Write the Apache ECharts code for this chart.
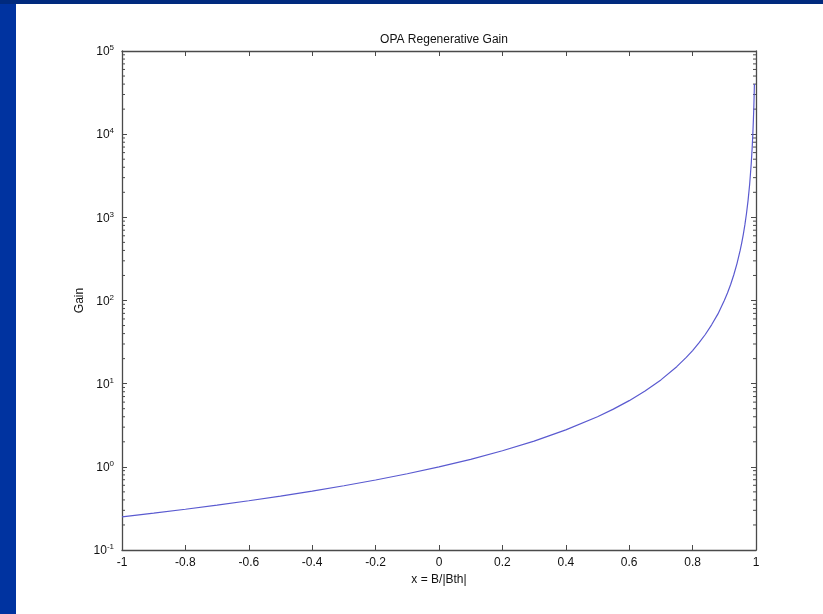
<!DOCTYPE html>
<html>
<head>
<meta charset="utf-8">
<script src="https://cdn.jsdelivr.net/npm/echarts@6/dist/echarts.min.js"></script>
<style>
html,body{margin:0;padding:0;background:#0033a0;}
#c{width:823px;height:614px;}
</style>
</head>
<body>
<div id="c"></div>
<script>
// Data
const xValues = [-1, -0.9, -0.8, -0.7, -0.6, -0.5, -0.4, -0.3, -0.2, -0.1, 0, 0.1, 0.2, 0.3, 0.4, 0.5, 0.55, 0.6, 0.65, 0.7, 0.75, 0.78, 0.8, 0.82, 0.84, 0.86, 0.88, 0.9, 0.91, 0.92, 0.93, 0.94, 0.95, 0.955, 0.96, 0.965, 0.97, 0.975, 0.98, 0.985, 0.988, 0.99, 0.992, 0.993, 0.994, 0.995];
const gainValues = [0.25, 0.277, 0.309, 0.346, 0.391, 0.444, 0.51, 0.592, 0.694, 0.826, 1.0, 1.23, 1.56, 2.04, 2.78, 4.0, 4.94, 6.25, 8.16, 11.1, 16, 20.7, 25, 30.9, 39, 51, 69, 100, 123, 156, 204, 278, 400, 494, 625, 816, 1111, 1600, 2500, 4444, 6944, 10000, 15600, 20400, 27800, 40000];
const xTicks = [-1, -0.8, -0.6, -0.4, -0.2, 0, 0.2, 0.4, 0.6, 0.8, 1];
const minorTickValues = [];
[0.1, 1, 10, 100, 1000, 10000].forEach(d => { for (let m = 2; m <= 9; m++) minorTickValues.push(+(d * m).toPrecision(3)); });

const chart = echarts.init(document.getElementById('c'), null, {renderer: 'canvas'});
const font = 'Liberation Sans, Arial, Helvetica, sans-serif';
const axisColor = '#4a4a4a';

const line = xValues.map((x, i) => [x, gainValues[i]]);

function supLabel(v) {
  const e = Math.round(Math.log10(v));
  return '{b|10}{s|' + e + '}';
}
const rich = {
  b: {fontSize: 12, fontFamily: font, color: '#111', lineHeight: 14, verticalAlign: 'bottom'},
  s: {fontSize: 8, fontFamily: font, color: '#111', lineHeight: 14, verticalAlign: 'top', padding: [0, 0, 6, 0]}
};

chart.setOption({
  backgroundColor: '#0033a0',
  animation: false,
  graphic: [
    {type: 'rect', shape: {x: 0, y: 0, width: 823, height: 4}, style: {fill: '#002a7e'}, z: -10, silent: true},
    {type: 'rect', shape: {x: 16, y: 4, width: 807, height: 610}, style: {fill: '#ffffff'}, z: -9, silent: true}
  ],
  title: {
    text: 'OPA Regenerative Gain',
    left: 439, top: 29, textAlign: 'center',
    textStyle: {fontSize: 12, fontWeight: 'normal', color: '#111', fontFamily: font}
  },
  grid: {left: 122, top: 51, right: 67, bottom: 64, containLabel: false},
  xAxis: [{
    type: 'value', min: -1, max: 1, interval: 0.2, position: 'bottom',
    name: 'x = B/|Bth|', nameLocation: 'middle', nameGap: 24,
    nameTextStyle: {fontSize: 12, color: '#111', fontFamily: font},
    axisLine: {show: true, onZero: false, lineStyle: {color: axisColor, width: 1.3}},
    axisTick: {show: true, inside: true, length: 5, lineStyle: {color: axisColor}},
    axisLabel: {fontSize: 12, color: '#111', fontFamily: font, margin: 7,
      formatter: v => { const r = Math.round(v * 10) / 10; return String(r); }},
    splitLine: {show: false}
  }, {
    type: 'value', min: -1, max: 1, interval: 0.2, position: 'top',
    axisLine: {show: true, onZero: false, lineStyle: {color: axisColor, width: 1.3}},
    axisTick: {show: true, inside: true, length: 5, lineStyle: {color: axisColor}},
    axisLabel: {show: false}, splitLine: {show: false}
  }],
  yAxis: [{
    type: 'log', logBase: 10, min: 0.1, max: 100000, position: 'left',
    name: 'Gain', nameLocation: 'middle', nameGap: 36, nameRotate: 90, nameMoveOverlap: false,
    nameTextStyle: {fontSize: 12, color: '#111', fontFamily: font},
    axisLine: {show: true, onZero: false, lineStyle: {color: axisColor, width: 1.3}},
    axisTick: {show: true, inside: true, length: 5, lineStyle: {color: axisColor}},
    axisLabel: {margin: 8, formatter: supLabel, rich: rich},
    splitLine: {show: false}
  }, {
    type: 'log', logBase: 10, min: 0.1, max: 100000, position: 'right',
    axisLine: {show: true, onZero: false, lineStyle: {color: axisColor, width: 1.3}},
    axisTick: {show: true, inside: true, length: 5, lineStyle: {color: axisColor}},
    axisLabel: {show: false}, splitLine: {show: false}
  }],
  series: [{
    type: 'line', xAxisIndex: 0, yAxisIndex: 0,
    data: line, showSymbol: false, smooth: false,
    lineStyle: {color: '#5a5ad0', width: 1.2}
  }, {
    type: 'custom', xAxisIndex: 0, yAxisIndex: 0, silent: true, clip: false,
    data: minorTickValues.map(v => [-1, v]),
    renderItem: function (params, api) {
      const v = api.value(1);
      const pl = api.coord([-1, v]);
      const pr = api.coord([1, v]);
      return {
        type: 'group',
        children: [
          {type: 'line', shape: {x1: pl[0], y1: pl[1], x2: pl[0] + 3, y2: pl[1]}, style: {stroke: axisColor, lineWidth: 1}},
          {type: 'line', shape: {x1: pr[0], y1: pr[1], x2: pr[0] - 3, y2: pr[1]}, style: {stroke: axisColor, lineWidth: 1}}
        ]
      };
    }
  }]
});
</script>
</body>
</html>
